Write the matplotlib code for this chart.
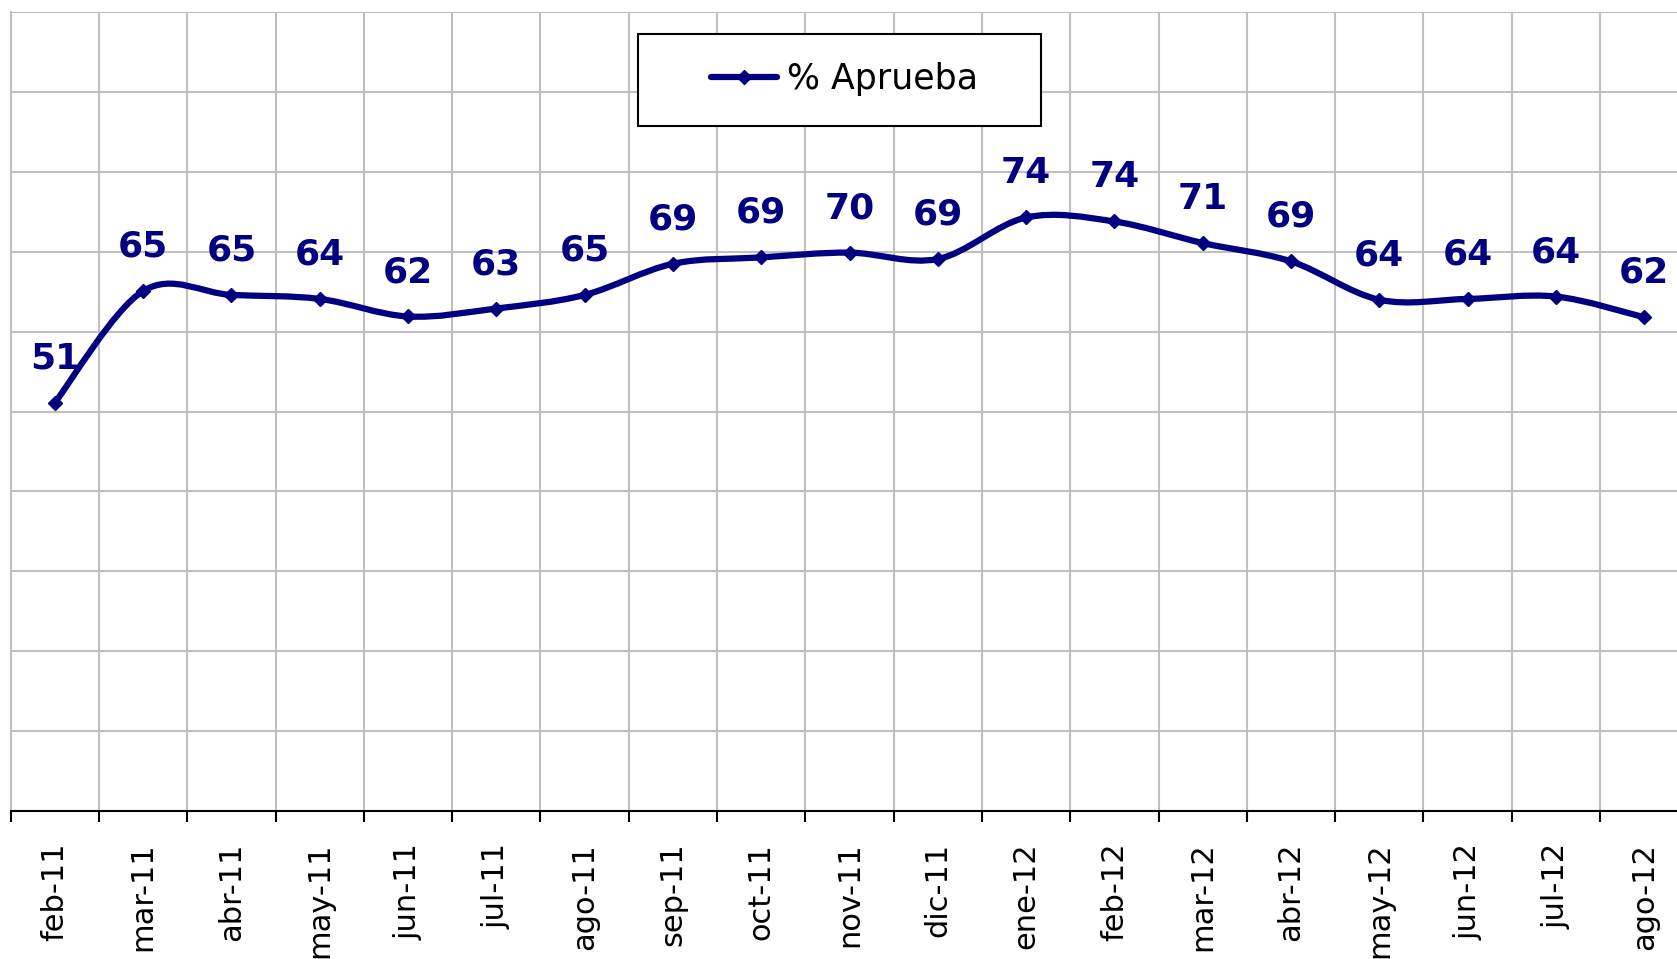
import numpy as np
import matplotlib.pyplot as plt
from matplotlib.path import Path
from matplotlib.patches import PathPatch, Rectangle
from matplotlib.lines import Line2D

# datos
meses = ["feb-11", "mar-11", "abr-11", "may-11", "jun-11", "jul-11", "ago-11",
         "sep-11", "oct-11", "nov-11", "dic-11", "ene-12", "feb-12", "mar-12",
         "abr-12", "may-12", "jun-12", "jul-12", "ago-12"]
aprueba = [51.1, 65.1, 64.6, 64.1, 61.9, 62.9, 64.6, 68.5, 69.3, 69.9,
           69.1, 74.3, 73.8, 71.1, 68.8, 64.0, 64.1, 64.4, 61.8]
etiquetas = [51, 65, 65, 64, 62, 63, 65, 69, 69, 70, 69, 74, 74, 71, 69, 64, 64, 64, 62]
serie = "% Aprueba"

AZUL = "#000080"
GRIS = "#c0c0c0"


def curva_suave(x, y):
    # linea suavizada tipo Excel (bezier, tension 1/6)
    pts = np.column_stack([x, y])
    ext = np.vstack([pts[0], pts, pts[-1]])
    verts = [pts[0]]
    codes = [Path.MOVETO]
    for i in range(len(pts) - 1):
        p0, p1, p2, p3 = ext[i], ext[i + 1], ext[i + 2], ext[i + 3]
        verts += [p1 + (p2 - p0) / 6, p2 - (p3 - p1) / 6, p2]
        codes += [Path.CURVE4] * 3
    return Path(verts, codes)


fig = plt.figure(figsize=(16.77, 9.59), dpi=100)
ax = fig.add_axes([0.00638, 0.15464, 1.0004, 0.83253])

x = np.arange(len(meses))
ax.set_xlim(-0.5, len(meses) - 0.5)
ax.set_ylim(0, 100)

# ejes y rejilla
ax.set_xticks(x)
ax.set_xticklabels(meses, rotation=90, fontsize=22)
ax.set_xticks(np.arange(-0.5, len(meses), 1), minor=True)
ax.tick_params(axis="x", which="major", length=0, pad=23)
ax.tick_params(axis="x", which="minor", length=8, width=1.5, direction="out", color="black")
ax.set_yticks(np.arange(10, 101, 10))
ax.set_yticklabels([])
ax.tick_params(axis="y", length=0)
ax.grid(axis="x", which="minor", color=GRIS, lw=1.5)
ax.grid(axis="y", which="major", color=GRIS, lw=1.5)
ax.set_axisbelow(True)

for s in ["top", "right"]:
    ax.spines[s].set_visible(False)
ax.spines["left"].set_color(GRIS)
ax.spines["left"].set_linewidth(1.5)
ax.spines["bottom"].set_color("black")
ax.spines["bottom"].set_linewidth(1.5)
ax.spines["bottom"].set_zorder(4)

# serie
ax.add_patch(PathPatch(curva_suave(x, aprueba), fill=False, ec=AZUL, lw=4.5,
                       capstyle="round", joinstyle="round", zorder=3))
ax.plot(x, aprueba, linestyle="none", marker="D", ms=7.5, color=AZUL, zorder=3)

for xi, v, lbl in zip(x, aprueba, etiquetas):
    ax.annotate(str(lbl), (xi, v), xytext=(0, 32), textcoords="offset points",
                ha="center", va="center", fontsize=26, fontweight="bold", color=AZUL)

# leyenda
caja = Rectangle((638.3 / 1677, 1 - 126 / 959), (1040.7 - 638.3) / 1677, 92 / 959,
                 transform=fig.transFigure, fc="white", ec="black", lw=1.5, zorder=3)
fig.add_artist(caja)
h = Line2D([], [], color=AZUL, lw=4.5, marker="D", ms=7.5, solid_capstyle="round")
fig.legend([h], [serie], loc="center left", bbox_to_anchor=(711 / 1677, 1 - 79 / 959),
           frameon=False, fontsize=25, handlelength=1.9, handletextpad=0.3,
           borderpad=0, borderaxespad=0)

fig.savefig("out.png", dpi=100)
